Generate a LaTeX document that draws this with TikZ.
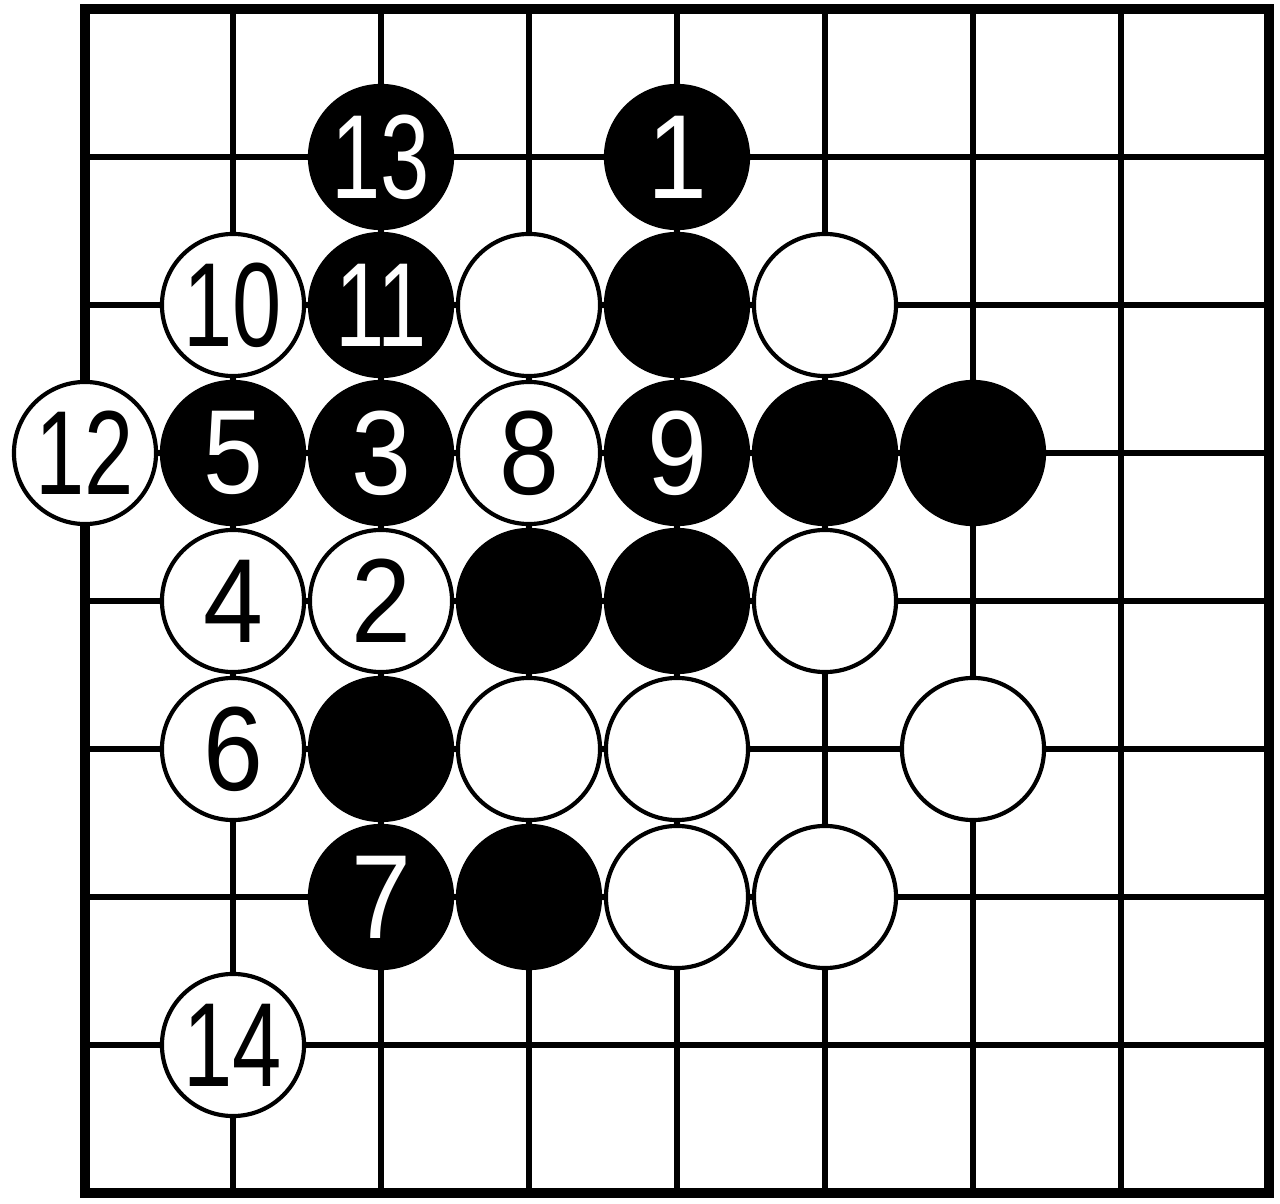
\documentclass[tikz,border=0pt]{standalone}
\usepackage{fontspec}
\setmainfont{Liberation Sans}
\usepackage{graphicx}
\newcommand\onedigit[1]{\scalebox{0.9}[1]{#1}}
\newcommand\twodigit[1]{\scalebox{0.74}[1]{#1}}

\begin{document}
\begin{tikzpicture}[x=1cm,y=-1cm,
                    stone/.style={circle,draw=black,line width=0.8pt,inner sep=0pt,minimum size=0.96cm,font=\fontsize{23}{23}\selectfont},
                    black stone/.style={stone,fill=black,text=white},
                    white stone/.style={stone,fill=white,text=black}]

        \useasboundingbox (-0.5743,-0.0608) rectangle (8.0743,8.0743);

        % board
        \draw[line width=1.05pt] (0,0) grid (8,8);
        \draw[line width=1.75pt] (0,0) rectangle (8,8);

        % row 1
        \node[black stone] (m13) at (2,1) {\twodigit{13}};
        \node[black stone] (m1) at (4,1) {\onedigit{1}};

        % row 2
        \node[white stone] (m10) at (1,2) {\twodigit{10}};
        \node[black stone] (m11) at (2,2) {\twodigit{11}};
        \node[white stone] (w32) at (3,2) {};
        \node[black stone] (b42) at (4,2) {};
        \node[white stone] (w52) at (5,2) {};

        % row 3
        \node[white stone] (m12) at (0,3) {\twodigit{12}};
        \node[black stone] (m5) at (1,3) {\onedigit{5}};
        \node[black stone] (m3) at (2,3) {\onedigit{3}};
        \node[white stone] (m8) at (3,3) {\onedigit{8}};
        \node[black stone] (m9) at (4,3) {\onedigit{9}};
        \node[black stone] (b53) at (5,3) {};
        \node[black stone] (b63) at (6,3) {};

        % row 4
        \node[white stone] (m4) at (1,4) {\onedigit{4}};
        \node[white stone] (m2) at (2,4) {\onedigit{2}};
        \node[black stone] (b34) at (3,4) {};
        \node[black stone] (b44) at (4,4) {};
        \node[white stone] (w54) at (5,4) {};

        % row 5
        \node[white stone] (m6) at (1,5) {\onedigit{6}};
        \node[black stone] (b25) at (2,5) {};
        \node[white stone] (w35) at (3,5) {};
        \node[white stone] (w45) at (4,5) {};
        \node[white stone] (w65) at (6,5) {};

        % row 6
        \node[black stone] (m7) at (2,6) {\onedigit{7}};
        \node[black stone] (b36) at (3,6) {};
        \node[white stone] (w46) at (4,6) {};
        \node[white stone] (w56) at (5,6) {};

        % row 7
        \node[white stone] (m14) at (1,7) {\twodigit{14}};
      \end{tikzpicture}
\end{document}
